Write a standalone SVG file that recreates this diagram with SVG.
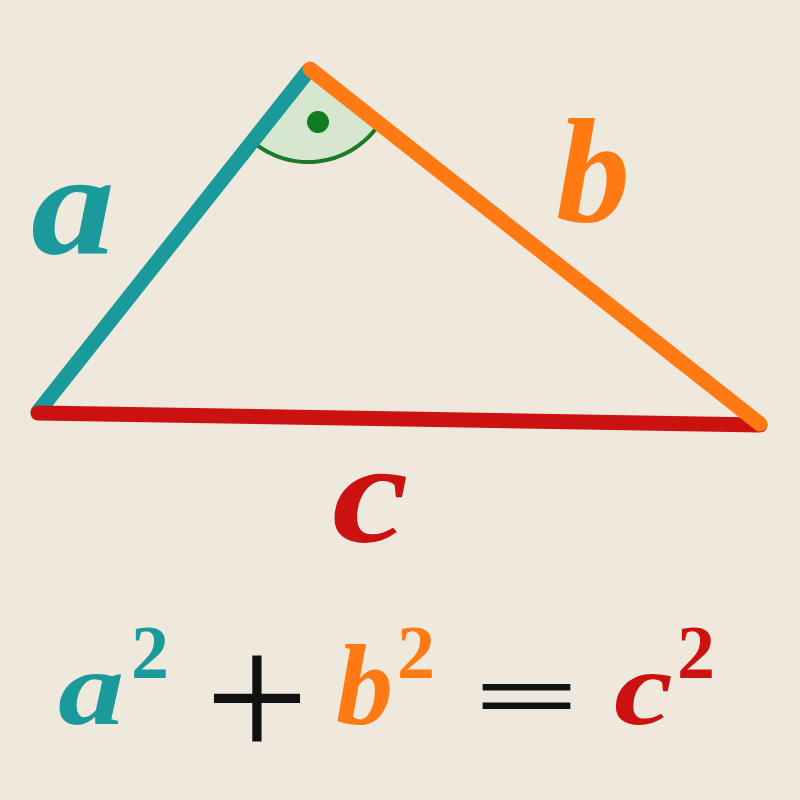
<svg xmlns="http://www.w3.org/2000/svg" width="800" height="800" viewBox="0 0 800 800">
<style>
.side{fill:none;stroke-width:15;stroke-linecap:round}
.lbl{font-family:"Liberation Serif",serif;font-style:italic;font-weight:bold}
.sup{font-family:"Liberation Serif",serif;font-weight:bold;font-size:76px}
.op{font-family:"Liberation Serif",serif;fill:#111}
.teal{fill:#1a9a9a}.orange{fill:#ff7a12}.red{fill:#cc1111}
</style>
<rect width="800" height="800" fill="#efe9dd"/>
<g id="right-angle">
<path d="M308,76 L254.5,143.3 A86,86 0 0 0 375.5,129.3 Z" fill="#d6e6cf" stroke="none"/>
<path d="M254.5,143.3 A86,86 0 0 0 375.5,129.3" fill="none" stroke="#1a7a2a" stroke-width="4"/>
<circle cx="318" cy="122" r="11" fill="#117a22"/>
</g>
<g id="connectors">
<line id="side-a" class="side" x1="38" y1="412" x2="309" y2="70" stroke="#1a9a9a"/>
<line id="side-c" class="side" x1="38" y1="413" x2="760" y2="425" stroke="#cc1111"/>
<line id="side-b" class="side" x1="310" y1="69" x2="760" y2="424" stroke="#ff7a12"/>
</g>
<g id="label-a"><text class="lbl teal" transform="translate(31,254) scale(1.15,1)" font-size="146">a</text></g>
<g id="label-b"><text class="lbl orange" transform="translate(556,221)" font-size="148">b</text></g>
<g id="label-c"><text class="lbl red" transform="translate(332,542) scale(1.19,1)" font-size="145">c</text></g>
<g id="formula">
<text class="lbl teal" transform="translate(58,724) scale(1.25,1)" font-size="106">a</text>
<text class="sup teal" x="131" y="678">2</text>
<text class="op" x="257" y="760" font-size="185" text-anchor="middle">+</text>
<text class="lbl orange" transform="translate(336,724)" font-size="114">b</text>
<text class="sup orange" x="397" y="678">2</text>
<text class="op" transform="translate(527,697) scale(1.02,0.5)" y="59" font-size="185" font-weight="bold" text-anchor="middle">=</text>
<text class="lbl red" transform="translate(614,724) scale(1.25,1)" font-size="106">c</text>
<text class="sup red" x="677" y="678">2</text>
</g>
</svg>
